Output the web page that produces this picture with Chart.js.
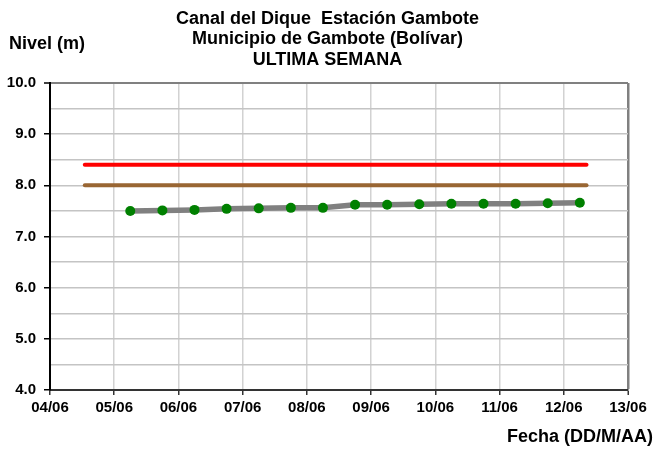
<!DOCTYPE html>
<html>
<head>
<meta charset="utf-8">
<script src="https://cdn.jsdelivr.net/npm/chart.js@4/dist/chart.umd.min.js"></script>
<style>
  html, body { margin: 0; padding: 0; background: #fff; }
  #wrap { width: 655px; height: 452px; }
</style>
</head>
<body>
<div id="wrap"><canvas id="nivel"></canvas></div>
<script>
// Etiquetas del eje X (un dia por marca)
const diasEje = ['04/06', '05/06', '06/06', '07/06', '08/06', '09/06', '10/06', '11/06', '12/06', '13/06'];

// Lecturas de la ultima semana (06:00 y 18:00)
const fechas = [
    '05/06 06:00', '05/06 18:00', '06/06 06:00', '06/06 18:00', '07/06 06:00',
    '07/06 18:00', '08/06 06:00', '08/06 18:00', '09/06 06:00', '09/06 18:00',
    '10/06 06:00', '10/06 18:00', '11/06 06:00', '11/06 18:00', '12/06 06:00'
];
const niveles = [7.50, 7.51, 7.52, 7.54, 7.55, 7.56, 7.56, 7.62, 7.62, 7.63, 7.64, 7.64, 7.64, 7.65, 7.66];

// Cotas de referencia
const tramoReferencia = ['04/06 13:00', '12/06 08:30'];
const cotaAlerta = [8.4, 8.4];
const cotaAviso = [8.0, 8.0];

const titulo = ['Canal del Dique  Estación Gambote', 'Municipio de Gambote (Bolívar)', 'ULTIMA SEMANA'];

// dias desde el 04/06 00:00
function aDias(f) {
    const [fecha, hora] = f.split(' ');
    const dia = parseInt(fecha.split('/')[0], 10);
    const [h, m] = hora.split(':').map(Number);
    return (dia - 4) + (h + m / 60) / 24;
}

const FUENTE = '"Liberation Sans", Arial, sans-serif';

const textos = {
    id: 'textos',
    afterDraw(chart) {
        const ctx = chart.ctx;
        ctx.save();
        ctx.fillStyle = '#000';
        ctx.font = 'bold 18px ' + FUENTE;
        ctx.textAlign = 'center';
        ctx.textBaseline = 'middle';
        titulo.forEach((t, i) => ctx.fillText(t, 327.5, 19 + i * 20.3));
        ctx.textAlign = 'left';
        ctx.fillText('Nivel (m)', 9, 44);
        ctx.textAlign = 'right';
        ctx.fillText('Fecha (DD/M/AA)', 653, 437);
        ctx.restore();
    }
};

new Chart(document.getElementById('nivel'), {
    type: 'line',
    data: {
        datasets: [
            {
                data: fechas.map((f, i) => ({ x: aDias(f), y: niveles[i] })),
                borderColor: '#808080',
                borderWidth: 5.5,
                pointRadius: 5,
                pointBackgroundColor: '#008000',
                pointBorderColor: '#008000',
                pointBorderWidth: 0,
                tension: 0
            },
            {
                data: tramoReferencia.map((f, i) => ({ x: aDias(f), y: cotaAviso[i] })),
                borderColor: '#996633',
                borderWidth: 4,
                borderCapStyle: 'round',
                pointRadius: 0
            },
            {
                data: tramoReferencia.map((f, i) => ({ x: aDias(f), y: cotaAlerta[i] })),
                borderColor: '#ff0000',
                borderWidth: 4,
                borderCapStyle: 'round',
                pointRadius: 0
            }
        ]
    },
    options: {
        responsive: true,
        maintainAspectRatio: false,
        animation: false,
        layout: { padding: { top: 83, right: 27, left: 0, bottom: 0 } },
        plugins: {
            legend: { display: false },
            tooltip: { enabled: false },
            title: { display: false }
        },
        scales: {
            x: {
                type: 'linear',
                min: 0,
                max: diasEje.length - 1,
                afterFit: s => { s.height = 62; },
                afterBuildTicks: s => { s.ticks = diasEje.map((_, i) => ({ value: i })); },
                ticks: {
                    color: '#000',
                    font: { family: FUENTE, size: 15, weight: 'bold' },
                    padding: 4,
                    maxRotation: 0,
                    autoSkip: false,
                    callback: v => diasEje[v]
                },
                grid: {
                    color: c => c.tick && c.tick.value === diasEje.length - 1 ? '#808080' : '#d2d2d2',
                    lineWidth: c => c.tick && c.tick.value === diasEje.length - 1 ? 2.5 : 1.5,
                    tickColor: '#333',
                    tickLength: 5,
                    tickWidth: 1.5
                },
                border: { color: '#333', width: 2 }
            },
            y: {
                min: 4,
                max: 10,
                afterFit: s => { s.width = 50; },
                ticks: {
                    stepSize: 0.5,
                    color: '#000',
                    font: { family: FUENTE, size: 15, weight: 'bold' },
                    padding: 8,
                    callback: v => Number.isInteger(v) ? v.toFixed(1) : ''
                },
                grid: {
                    color: c => c.tick && c.tick.value === 10 ? '#808080' : '#c4c4c4',
                    lineWidth: c => c.tick && c.tick.value === 10 ? 2 : 1.5,
                    tickColor: c => c.tick && Number.isInteger(c.tick.value) ? '#000' : 'rgba(0,0,0,0)',
                    tickLength: 6,
                    tickWidth: 1.5
                },
                border: { color: '#000', width: 2 }
            }
        }
    },
    plugins: [textos]
});
</script>
</body>
</html>
